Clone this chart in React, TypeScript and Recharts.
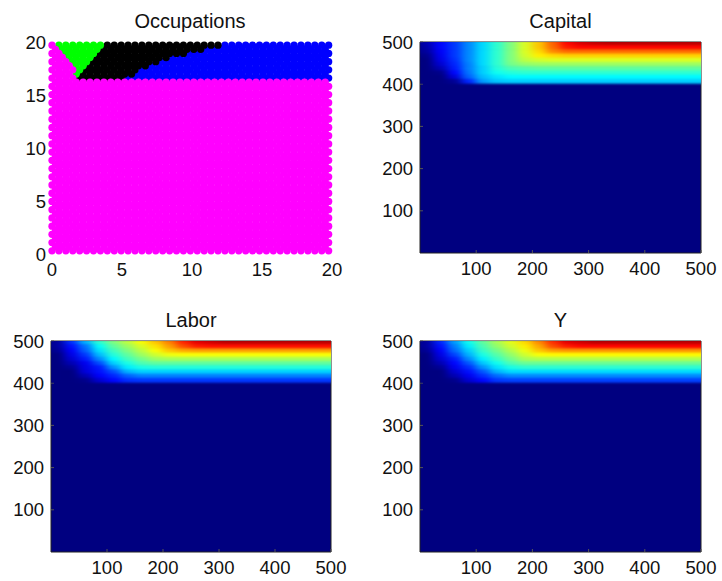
import { ScatterChart, Scatter, XAxis, YAxis, ZAxis, ReferenceArea } from 'recharts'

const FONT = '"Liberation Sans", Arial, sans-serif'

// Occupations: staggered rows of dots from y=19.7 down to y=0.3, one letter per dot
const OCC_TOP = 19.7
const OCC_STEP_Y = 0.388
const OCC_STEP_X = 0.494
const OCC_COLORS: Record<string, string> = { B: '#0000ff', K: '#000000', G: '#00ff00', M: '#ff00ff' }
const occTicks = [0, 5, 10, 15, 20]
const E = 'MMMMMMMMMMMMMMMMMMMMMMMMMMMMMMMMMMMMMMMMM'
const O = 'MMMMMMMMMMMMMMMMMMMMMMMMMMMMMMMMMMMMMMMM'
const occRows = [
  'M GGGGGGG KKKKKKKKKKKKKKKKK BBBBBBBBBBBBBBBB',
  'M GGGGGG KKKKKKKKKKKKKKK BBBBBBBBBBBBBBBBBB',
  'MM GGGGG KKKKKKKKKKKKK BBBBBBBBBBBBBBBBBBBBB',
  'MM GGGG KKKKKKKKKKK BBBBBBBBBBBBBBBBBBBBBBB',
  'MMM GGG KKKKKKKKKK BBBBBBBBBBBBBBBBBBBBBBBBB',
  'MMM GG KKKKKKKKK BBBBBBBBBBBBBBBBBBBBBBBBBB',
  'MMMM G KKKKKKKK BBBBBBBBBBBBBBBBBBBBBBBBBBBB',
  'MMM G KKKKKKKK BBBBBBBBBBBBBBBBBBBBBBBBBBBB',
  'MMMM KKKKKKK BBBBBBBBBBBBBBBBBBBBBBBBBBBBBB',
  O,
  E, O, E, O, E, O, E, O, E, O,
  E, O, E, O, E, O, E, O, E, O,
  E, O, E, O, E, O, E, O, E, O,
  E, O, E, O, E, O, E, O, E, O,
  E,
]

// heat maps, values 0-100 on the colour scale, everything below y=402 is 0
const heatTicks = [100, 200, 300, 400, 500]
const heatX = [12.5, 37.5, 62.5, 87.5, 112.5, 137.5, 162.5, 187.5, 212.5, 237.5, 262.5, 287.5, 312.5, 337.5, 362.5, 387.5, 412.5, 437.5, 462.5, 487.5, 512.5]
const heatY = [497, 487, 477, 467, 457, 447, 437, 427, 417, 407]

const capital = [
  [5, 13, 18, 26, 34, 42, 50, 59, 68, 78, 87, 91, 93, 94, 94, 94, 94, 94, 94, 94, 94],
  [4, 13, 18, 26, 34, 42, 50, 59, 68, 77, 85, 87, 87, 87, 87, 87, 87, 87, 87, 87, 87],
  [3, 12, 18, 26, 34, 42, 50, 59, 66, 74, 77, 77, 77, 77, 77, 77, 77, 77, 77, 77, 77],
  [1, 11, 18, 26, 34, 42, 50, 58, 64, 66, 67, 67, 67, 67, 67, 67, 67, 67, 67, 67, 67],
  [0, 10, 17, 26, 34, 42, 50, 56, 58, 59, 59, 59, 59, 59, 59, 59, 59, 59, 59, 59, 59],
  [0, 8, 16, 25, 34, 42, 49, 52, 53, 53, 53, 53, 53, 53, 53, 53, 53, 53, 53, 53, 53],
  [0, 5, 15, 25, 33, 41, 45, 46, 47, 47, 47, 47, 47, 47, 47, 47, 47, 47, 47, 47, 47],
  [0, 1, 13, 24, 33, 39, 41, 42, 42, 42, 42, 42, 42, 42, 42, 42, 42, 42, 42, 42, 42],
  [0, 0, 9, 22, 31, 35, 37, 37, 37, 37, 37, 37, 37, 37, 37, 37, 37, 37, 37, 37, 37],
  [0, 0, 2, 16, 28, 32, 33, 33, 33, 33, 33, 33, 33, 33, 33, 33, 33, 33, 33, 33, 33],
]

const labor = [
  [3, 17, 30, 42, 50, 56, 62, 68, 75, 84, 90, 92, 94, 94, 94, 94, 94, 94, 94, 94, 94],
  [3, 14, 24, 38, 47, 53, 59, 65, 72, 80, 85, 86, 86, 86, 86, 86, 86, 86, 86, 86, 86],
  [2, 12, 22, 35, 44, 50, 56, 62, 68, 71, 72, 72, 72, 72, 72, 72, 72, 72, 72, 72, 72],
  [0, 10, 18, 31, 41, 47, 53, 58, 61, 62, 62, 62, 62, 62, 62, 62, 62, 62, 62, 62, 62],
  [0, 8, 15, 26, 37, 44, 49, 53, 54, 54, 54, 54, 54, 54, 54, 54, 54, 54, 54, 54, 54],
  [0, 5, 11, 20, 33, 40, 45, 47, 47, 47, 47, 47, 47, 47, 47, 47, 47, 47, 47, 47, 47],
  [0, 2, 10, 15, 27, 36, 40, 41, 41, 41, 41, 41, 41, 41, 41, 41, 41, 41, 41, 41, 41],
  [0, 0, 9, 14, 20, 30, 33, 33, 33, 33, 33, 33, 33, 33, 33, 33, 33, 33, 33, 33, 33],
  [0, 0, 5, 12, 16, 22, 25, 25, 25, 25, 25, 25, 25, 25, 25, 25, 25, 25, 25, 25, 25],
  [0, 0, 1, 8, 13, 17, 18, 18, 18, 18, 18, 18, 18, 18, 18, 18, 18, 18, 18, 18, 18],
]

const output = [
  [3, 16, 28, 39, 47, 54, 60, 66, 74, 83, 90, 92, 94, 94, 94, 94, 94, 94, 94, 94, 94],
  [3, 14, 25, 36, 45, 52, 58, 64, 71, 80, 85, 87, 87, 87, 87, 87, 87, 87, 87, 87, 87],
  [2, 12, 23, 33, 43, 49, 55, 61, 68, 72, 73, 73, 73, 73, 73, 73, 73, 73, 73, 73, 73],
  [0, 10, 19, 30, 40, 46, 52, 58, 62, 63, 63, 63, 63, 63, 63, 63, 63, 63, 63, 63, 63],
  [0, 8, 15, 26, 36, 43, 49, 54, 55, 55, 55, 55, 55, 55, 55, 55, 55, 55, 55, 55, 55],
  [0, 5, 13, 21, 32, 39, 45, 48, 48, 48, 48, 48, 48, 48, 48, 48, 48, 48, 48, 48, 48],
  [0, 2, 11, 17, 27, 35, 40, 42, 42, 42, 42, 42, 42, 42, 42, 42, 42, 42, 42, 42, 42],
  [0, 0, 8, 14, 21, 30, 34, 34, 34, 34, 34, 34, 34, 34, 34, 34, 34, 34, 34, 34, 34],
  [0, 0, 5, 11, 17, 23, 26, 26, 26, 26, 26, 26, 26, 26, 26, 26, 26, 26, 26, 26, 26],
  [0, 0, 1, 8, 13, 18, 19, 19, 19, 19, 19, 19, 19, 19, 19, 19, 19, 19, 19, 19, 19],
]

function occPoints(letter: string) {
  const pts: { x: number; y: number; z: number }[] = []
  occRows.forEach((row, r) => {
    row.replace(/ /g, '').split('').forEach((ch, c) => {
      if (ch === letter) pts.push({ x: c * OCC_STEP_X + (r % 2 ? OCC_STEP_X / 2 : 0), y: OCC_TOP - r * OCC_STEP_Y, z: 1 })
    })
  })
  return pts
}

function heatPoints(rows: number[][]) {
  return rows.flatMap((row, r) => row.map((v, c) => ({ x: heatX[c], y: heatY[r], v })))
}

const clamp = (n: number) => Math.max(0, Math.min(1, n))

function jet(v: number) {
  const t = v / 100
  const ch = (k: number) => Math.round(255 * clamp(1.5 - Math.abs(4 * t - k)))
  return `rgb(${ch(3)},${ch(2)},${ch(1)})`
}

const tickStyle = { fill: '#111', fontSize: 18.5, fontFamily: FONT }

function HeatCell(props: any) {
  const { cx, cy, payload } = props
  return <rect x={cx - 7.6} y={cy - 2.4} width={15.2} height={4.8} fill={jet(payload.v)} />
}

const CHART_W = 361
const CHART_H = 290

function Title({ text, x, y }: { text: string; x: number; y: number }) {
  return (
    <div style={{ position: 'absolute', left: x - 100, top: y, width: 200, textAlign: 'center', fontFamily: FONT, fontSize: 20, color: '#111', lineHeight: '18px' }}>
      {text}
    </div>
  )
}

function HeatPanel({ title, rows, left, top, plotLeft, plotRight, plotTop, plotBottom }: any) {
  const data = heatPoints(rows)
  return (
    <>
      <Title text={title} x={(plotLeft + plotRight) / 2} y={plotTop - 30} />
      <div className="heat" style={{ position: 'absolute', left, top }}>
        <ScatterChart
          width={CHART_W}
          height={CHART_H}
          margin={{ left: 0, top: plotTop - top, right: left + CHART_W - plotRight, bottom: top + CHART_H - plotBottom - 30 }}
        >
          <XAxis type="number" dataKey="x" domain={[0, 500]} ticks={heatTicks} interval={0} height={30} allowDataOverflow tick={tickStyle} tickSize={-3} tickMargin={12} axisLine={false} tickLine={{ stroke: '#555' }} />
          <YAxis type="number" dataKey="y" domain={[0, 500]} ticks={heatTicks} interval={0} width={plotLeft - left} allowDataOverflow tick={tickStyle} tickSize={-3} tickMargin={10} axisLine={false} tickLine={{ stroke: '#555' }} />
          <ReferenceArea x1={0} x2={500} y1={0} y2={500} fill="#000080" fillOpacity={1} stroke="none" />
          <Scatter data={data} shape={HeatCell} isAnimationActive={false} />
          <ReferenceArea x1={0} x2={500} y1={0} y2={500} fill="none" stroke="#222" strokeWidth={1} />
        </ScatterChart>
      </div>
    </>
  )
}

export default function App() {
  return (
    <div style={{ position: 'absolute', left: 0, top: 0, width: 722, height: 581, background: '#fff', overflow: 'hidden' }}>
      <svg width={0} height={0} style={{ position: 'absolute' }}>
        <defs>
          <filter id="heatBlur" x="-5%" y="-5%" width="110%" height="110%" colorInterpolationFilters="sRGB">
            <feGaussianBlur stdDeviation="4 1" />
          </filter>
        </defs>
      </svg>
      <style>{'.heat .recharts-scatter { filter: url(#heatBlur); }'}</style>

      <Title text="Occupations" x={190} y={12} />
      <div style={{ position: 'absolute', left: 0, top: 0 }}>
        <ScatterChart width={CHART_W} height={CHART_H} margin={{ left: 0, top: 42, right: 29, bottom: 6 }}>
          <XAxis type="number" dataKey="x" domain={[0, 20]} ticks={occTicks} interval={0} height={30} tick={tickStyle} tickSize={0} tickMargin={9} axisLine={false} />
          <YAxis type="number" dataKey="y" domain={[0, 20]} ticks={occTicks} interval={0} width={52} tick={tickStyle} tickSize={0} tickMargin={6} axisLine={false} />
          <ZAxis type="number" dataKey="z" range={[42, 42]} />
          <Scatter data={occPoints('B')} fill={OCC_COLORS.B} isAnimationActive={false} />
          <Scatter data={occPoints('K')} fill={OCC_COLORS.K} isAnimationActive={false} />
          <Scatter data={occPoints('G')} fill={OCC_COLORS.G} isAnimationActive={false} />
          <Scatter data={occPoints('M')} fill={OCC_COLORS.M} isAnimationActive={false} />
        </ScatterChart>
      </div>

      <HeatPanel title="Capital" rows={capital} left={361} top={0} plotLeft={420} plotRight={701} plotTop={42} plotBottom={253} />
      <HeatPanel title="Labor" rows={labor} left={0} top={291} plotLeft={51} plotRight={331} plotTop={341} plotBottom={552} />
      <HeatPanel title="Y" rows={output} left={361} top={291} plotLeft={420} plotRight={701} plotTop={341} plotBottom={552} />
    </div>
  )
}
